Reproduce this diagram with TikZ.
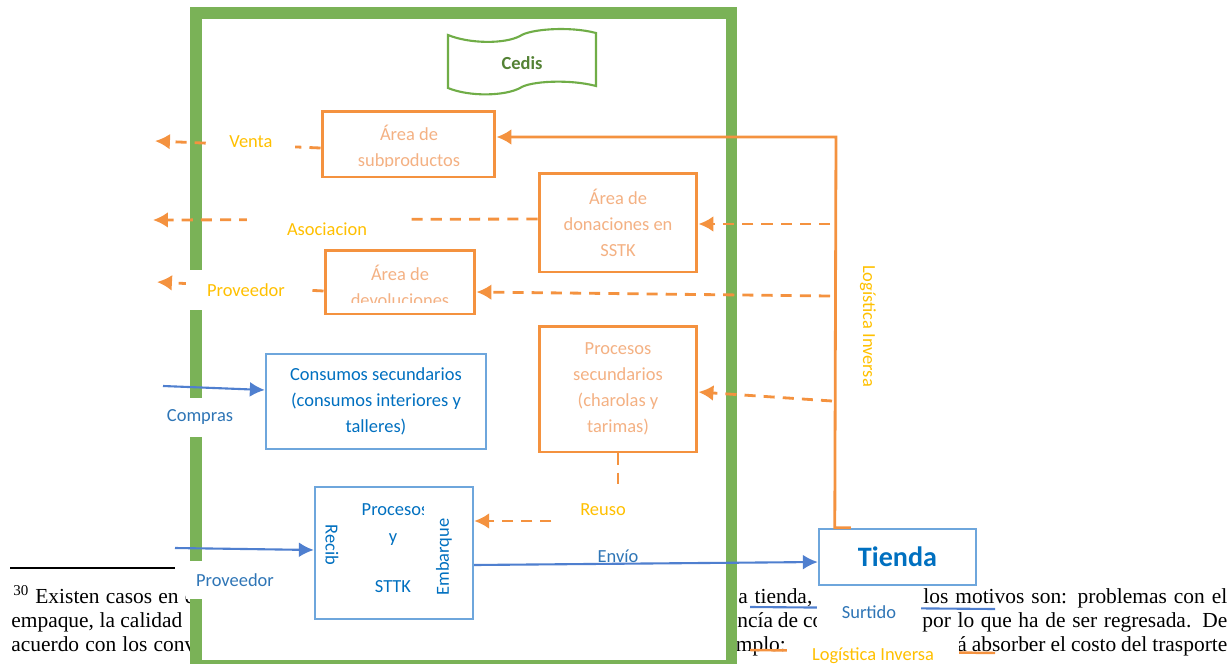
\documentclass[tikz,border=0pt]{standalone}
\usepackage{fontspec}
\setmainfont{Carlito}
\newfontfamily\notefont{Liberation Serif}
\usetikzlibrary{arrows.meta, positioning, calc}
\newlength\pxu
\setlength\pxu{0.02cm}
\definecolor{cgreen}{HTML}{7AB257}
\definecolor{cleaf}{HTML}{70AD47}
\definecolor{cdkgreen}{HTML}{548235}
\definecolor{corange}{HTML}{F4923F}
\definecolor{cpeach}{HTML}{F4B183}
\definecolor{cyellow}{HTML}{FFC000}
\definecolor{cblue}{HTML}{6EA6DC}
\definecolor{cdkblue}{HTML}{0070C0}
\definecolor{clabel}{HTML}{2E75B6}
\definecolor{carrow}{HTML}{4F7FCF}
\tikzset{
  every picture/.style={font=\fontsize{10.5pt}{14.8pt}\selectfont},
  obox/.style={draw=corange, line width=1.7pt, fill=white},
  bbox/.style={draw=cblue, line width=1.4pt, fill=white},
  otext/.style={text=cpeach, align=center},
  btext/.style={text=cdkblue, align=center},
  oarrow/.style={-{Latex[length=8.5pt, width=9pt]}, draw=corange, line width=1.6pt},
  odash/.style={oarrow, dash pattern=on 6.3pt off 4.6pt},
  barrow/.style={-{Latex[length=8.5pt, width=8.5pt]}, draw=carrow, line width=1.2pt},
  olabel/.style={fill=white, text=cyellow},
  blabel/.style={fill=white, text=clabel},
  note/.style={font=\notefont\fontsize{12.2pt}{14pt}\selectfont, anchor=base west, inner sep=0pt},
}

\begin{document}
\begin{tikzpicture}[x=0.02cm, y=-0.02cm]
  \useasboundingbox (0,0) rectangle (1231,663);
  % footnote of the page behind
  \draw[line width=1.1pt] (10,568) -- (175,568);
  \foreach \x/\y/\w/\t [count=\i] in {13/603/181/{\textsuperscript{30} Existen casos en e}, 738/603/74/{a tienda,},
                                      923/603/304/{los motivos son: problemas con el}, 11/627/171/{empaque, la calidad},
                                      737/627/86/{ncía de co}, 922/627/305/{por lo que ha de ser regresada. De},
                                      11/651/184/{acuerdo con los conv}, 726/651/57/{emplo:},
                                      957/651/270/{á absorber el costo del trasporte}} {
    \node[note] (fn\i) at (\x,\y) {\makebox[\w\pxu][s]{\t}};
  }
  % cedis frame
  \draw[cgreen, line width=6.8pt, fill=white] (196,13) rectangle (731.5,666);
  \draw[cleaf, line width=1.2pt, fill=white] (448,35) .. controls (470,44) and (505,44) .. (520,36)
    .. controls (530,29) and (570,26) .. (596,33) -- (596,86) .. controls (570,79) and (530,81) .. (520,88)
    .. controls (505,96) and (470,97) .. (448,88) -- cycle;
  \node[text=cdkgreen, font=\fontsize{10.5pt}{12pt}\selectfont\bfseries] (cedis) at (522,63) {Cedis};
  % areas
  \node[obox, minimum width=3.46cm, minimum height=1.32cm] (sub) at (408.5,144) {};
  \node[obox, otext, minimum width=3.16cm, minimum height=1.98cm] (don) at (618,222.5) {Área de\\donaciones en\\SSTK};
  \node[obox, minimum width=3.0cm, minimum height=1.28cm] (dev) at (400,282) {};
  \node[obox, otext, minimum width=3.16cm, minimum height=2.52cm] (psec) at (618,389) {Procesos\\secundarios\\(charolas y\\tarimas)};
  \begin{scope}
    \clip (sub.north west) rectangle (495,166);
    \node[otext] (subtxt) at (409,147) {Área de\\subproductos};
  \end{scope}
  \begin{scope}
    \clip (dev.north west) rectangle (475,302);
    \node[otext] (devtxt) at (400,286) {Área de\\devoluciones};
  \end{scope}
  \node[bbox, btext, minimum width=4.4cm, minimum height=1.9cm] (cons) at (376,401.5) {Consumos secundarios\\(consumos interiores y\\talleres)};
  \node[bbox, minimum width=3.16cm, minimum height=2.64cm] (rec) at (394,553) {};
  \node[btext, rotate=-90] (recl) at (332,545) {Recib};
  \begin{scope}
    \clip (rec.north west) rectangle (423,619);
    \node[btext] (proc) at (395,510) {Procesos};
  \end{scope}
  \node[btext] (ytxt) at (393,540) {y};
  \node[btext] (sttk) at (393,587) {STTK};
  \node[btext, rotate=90] (emb) at (444,557) {Embarque};
  \node[bbox, text=cdkblue, font=\fontsize{16pt}{19pt}\selectfont\bfseries, minimum width=3.14cm, minimum height=1.12cm] (tienda) at (897.5,557) {Tienda};
  % reverse logistics
  \coordinate (invtop) at (836,137);
  \draw[oarrow] ([xshift=0.66cm]tienda.north west) -- ([xshift=0.34cm]tienda.north west) -- (invtop) -- (invtop -| sub.east);
  \node[text=cyellow, rotate=-90] (invlbl) at (868,326) {Logística Inversa};
  \coordinate (r1) at (830,224);
  \coordinate (r2) at (830,296);
  \coordinate (r3) at (832,401);
  \draw[odash] (r1) -- (r1 -| don.east);
  \draw[odash] (r2) -- (dev.east |- 0,292);
  \draw[odash] (r3) -- (psec.east |- 0,392);
  \draw[odash] (psec.south) -- (psec.south |- 0,521) -- (rec.east |- 0,521);
  % out of the cedis
  \coordinate (venta) at (155,141);
  \coordinate (asoc) at (153,220);
  \coordinate (prov) at (157,282);
  \draw[odash] (sub.west |- 0,148) -- (venta);
  \draw[odash] (don.west |- 0,219) -- (asoc);
  \draw[odash] (dev.west |- 0,291) -- (prov);
  % into the cedis and to the store
  \coordinate (compin) at (163,386);
  \coordinate (provin) at (175,548);
  \draw[barrow] (compin) -- (cons.west |- 0,390);
  \draw[barrow] (provin) -- (rec.west |- 0,550);
  \draw[barrow] (rec.east |- 0,565) -- (tienda.west |- 0,562);
  \node[text=clabel] (envio) at (618,556) {Envío};
  \coordinate (surA) at (750,607);
  \coordinate (surB) at (995,609);
  \coordinate (logA) at (750,650);
  \coordinate (logB) at (995,653);
  \draw[carrow, line width=1.2pt] (surA) -- (surB);
  \draw[corange, line width=1.4pt] (logA) -- (logB);
  % labels
  \node[olabel, minimum width=1.76cm, minimum height=0.6cm] (ventalbl) at (251,142) {Venta};
  \node[olabel, minimum width=3.2cm, minimum height=0.76cm] (asoclbl) at (327,229) {Asociacion};
  \node[olabel, minimum width=2.4cm, minimum height=0.8cm] (provlbl) at (246,290) {Proveedor};
  \node[blabel, minimum width=1.6cm, minimum height=0.78cm] (complbl) at (200,417) {Compras};
  \node[blabel, minimum width=1.96cm, minimum height=0.76cm] (provinlbl) at (235,580) {Proveedor};
  \node[olabel, minimum width=2.0cm, minimum height=0.84cm] (reuso) at (603,510) {Reuso};
  \node[blabel, minimum width=2.08cm, minimum height=0.78cm] (surtido) at (869,612) {Surtido};
  \node[olabel, minimum width=3.44cm, minimum height=0.6cm] (loginv) at (873,656) {Logística Inversa};
\end{tikzpicture}
\end{document}
